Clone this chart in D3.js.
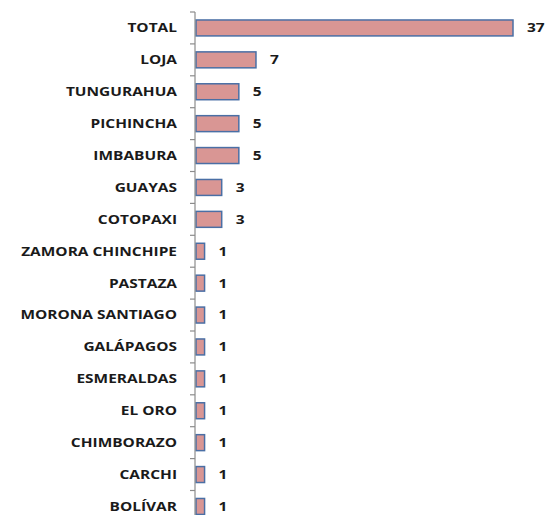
<!DOCTYPE html>
<html>
<head>
<meta charset="utf-8">
<script src="https://cdn.jsdelivr.net/npm/d3@7"></script>
<style>
  body { margin: 0; background: #fff; }
</style>
</head>
<body>
<script>
// provincias y número de casos
const provincias = ["TOTAL", "LOJA", "TUNGURAHUA", "PICHINCHA", "IMBABURA", "GUAYAS", "COTOPAXI",
  "ZAMORA CHINCHIPE", "PASTAZA", "MORONA SANTIAGO", "GALÁPAGOS", "ESMERALDAS", "EL ORO",
  "CHIMBORAZO", "CARCHI", "BOLÍVAR"];
const casos = [37, 7, 5, 5, 5, 3, 3, 1, 1, 1, 1, 1, 1, 1, 1, 1];

const width = 549, height = 515;
const data = provincias.map((p, i) => ({provincia: p, valor: casos[i]}));

const svg = d3.select("body").append("svg")
    .attr("width", width)
    .attr("height", height)
    .style("font-family", "'Open Sans', sans-serif");

// eje Y por categorías, la última banda queda cortada abajo
const y = d3.scaleBand()
    .domain(provincias)
    .range([12, 12 + 31.9 * provincias.length])
    .paddingInner(0.5)
    .paddingOuter(0.25);

const x = d3.scaleLinear()
    .domain([0, 37])
    .range([196, 513]);

// barras
svg.append("g")
  .selectAll("rect")
  .data(data)
  .join("rect")
    .attr("x", x(0))
    .attr("y", d => y(d.provincia))
    .attr("width", d => x(d.valor) - x(0))
    .attr("height", y.bandwidth())
    .attr("fill", "#d99694")
    .attr("stroke", "#4a6fa5")
    .attr("stroke-width", 1.5);

// eje Y con marcas entre categorías
const ejeY = svg.append("g");
ejeY.append("line")
    .attr("x1", x(0) - 1).attr("x2", x(0) - 1)
    .attr("y1", y.range()[0]).attr("y2", y.range()[1])
    .attr("stroke", "#8c8c8c")
    .attr("stroke-width", 1.2);
ejeY.selectAll("line.tick")
  .data(d3.range(provincias.length + 1))
  .join("line")
    .attr("class", "tick")
    .attr("x1", x(0) - 6).attr("x2", x(0) - 1)
    .attr("y1", i => y.range()[0] + i * y.step())
    .attr("y2", i => y.range()[0] + i * y.step())
    .attr("stroke", "#8c8c8c")
    .attr("stroke-width", 1.2);

// etiquetas de categorías (texto algo estirado en horizontal como en el original)
const etiquetas = svg.append("g")
  .selectAll("text")
  .data(data)
  .join("text")
    .attr("y", d => y(d.provincia) + y.bandwidth() / 2)
    .attr("dy", "0.35em")
    .attr("text-anchor", "end")
    .attr("font-size", 12.5)
    .attr("font-weight", "bold")
    .attr("fill", "#1a1a1a")
    .text(d => d.provincia);

const largo = etiquetas.filter(d => d.provincia === "ZAMORA CHINCHIPE").node().getComputedTextLength();
const escala = 156 / largo;
etiquetas.attr("transform", `translate(177,0) scale(${escala},1)`);

// valores al final de cada barra
svg.append("g")
  .selectAll("text")
  .data(data)
  .join("text")
    .attr("transform", d => `translate(${x(d.valor) + 14},0) scale(${escala},1)`)
    .attr("y", d => y(d.provincia) + y.bandwidth() / 2)
    .attr("dy", "0.35em")
    .attr("font-size", 12.5)
    .attr("font-weight", "bold")
    .attr("fill", "#1a1a1a")
    .text(d => d.valor);
</script>
</body>
</html>
